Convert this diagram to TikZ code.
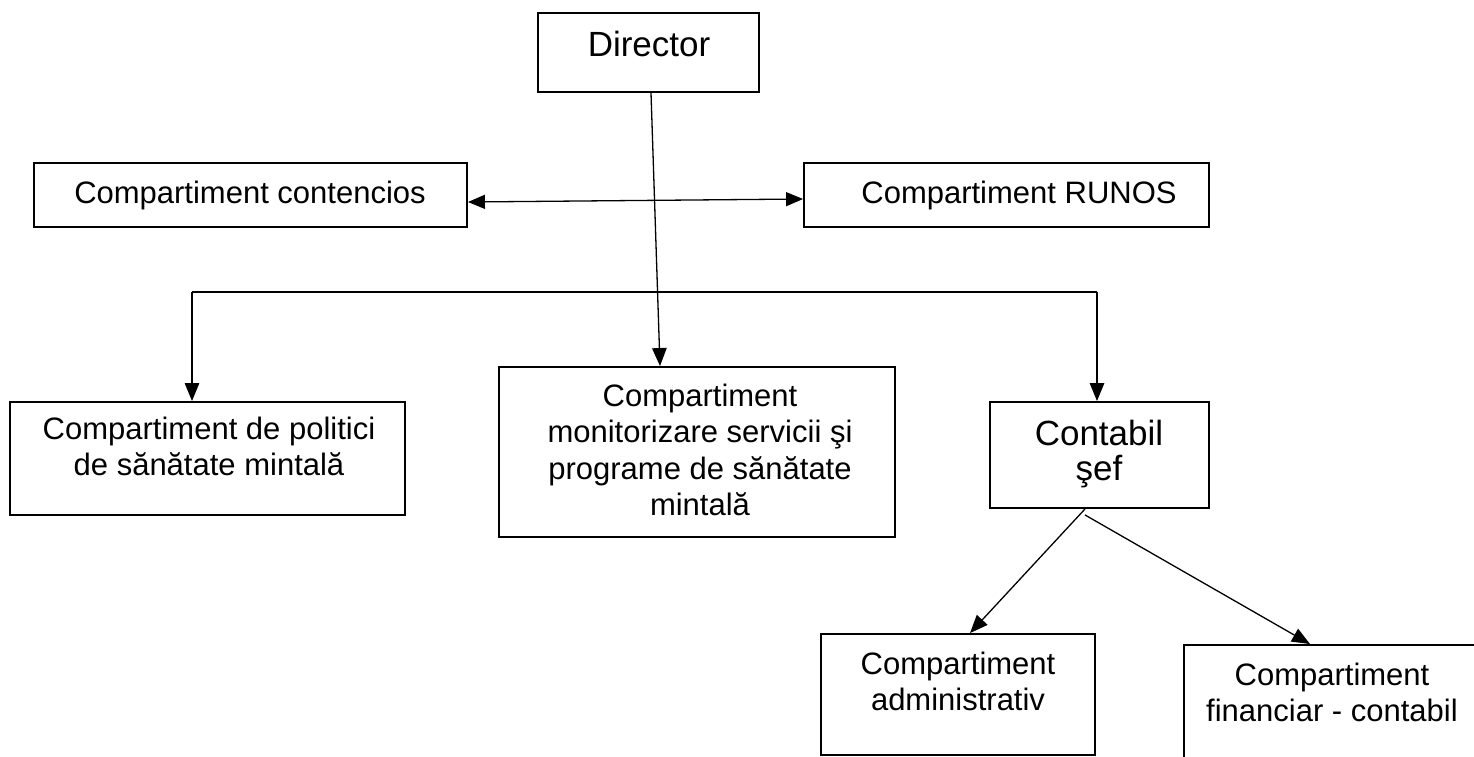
\documentclass[tikz,border=0pt]{standalone}
\usepackage{fontspec}
\setmainfont{Liberation Sans}
\usetikzlibrary{arrows.meta,calc}
\begin{document}
\begin{tikzpicture}[x=1pt,y=-1pt,
  box/.style={draw,line width=1.9pt,rectangle,inner sep=0pt},
  lbl/.style={inner sep=0pt,anchor=base,font=\fontsize{31}{36.5}\selectfont},
  big/.style={inner sep=0pt,anchor=base,font=\fontsize{35}{35}\selectfont},
  conn/.style={line width=1.3pt},
  arr/.style={conn,-{Triangle[length=18pt,width=14.5pt]}},
  biarr/.style={conn,{Triangle[length=17pt,width=14pt]}-{Triangle[length=17pt,width=14pt]}}]
\useasboundingbox (0,0) rectangle (1474,756);
\clip (0,0) rectangle (1474,756);
\fill[white] (0,0) rectangle (1474,756);

% boxes
\node[box,minimum width=221pt,minimum height=79pt] (dir) at (648.5,52.5) {};
\node[box,minimum width=433pt,minimum height=64pt] (cont) at (250.5,195) {};
\node[box,minimum width=405pt,minimum height=64pt] (runos) at (1006.5,195) {};
\node[box,minimum width=395pt,minimum height=113pt] (pol) at (207.5,458.5) {};
\node[box,minimum width=396pt,minimum height=170pt] (mon) at (697,452) {};
\node[box,minimum width=219pt,minimum height=106pt] (ctb) at (1099.5,455) {};
\node[box,minimum width=274pt,minimum height=121pt] (adm) at (958,694.5) {};
\node[box,minimum width=296pt,minimum height=145pt] (fin) at (1332,717.5) {};

% texts
\node[big] (tdir) at (649,56) {Director};
\node[lbl] (tcont) at (250,203) {Compartiment contencios};
\node[lbl] (truns) at (1019,203) {Compartiment RUNOS};
\node[lbl] (tpol) at (209,439) {\begin{tabular}[t]{@{}c@{}}Compartiment de politici\\de sănătate mintală\end{tabular}};
\node[lbl] (tmon) at (700,406) {\begin{tabular}[t]{@{}c@{}}Compartiment\\monitorizare servicii şi\\programe de sănătate\\mintală\end{tabular}};
\node[big] (tctb) at (1099,445) {\begin{tabular}[t]{@{}c@{}}Contabil\\şef\end{tabular}};
\node[lbl] (tadm) at (958,674) {\begin{tabular}[t]{@{}c@{}}Compartiment\\administrativ\end{tabular}};
\node[lbl] (tfin) at (1332,685) {\begin{tabular}[t]{@{}c@{}}Compartiment\\financiar - contabil\end{tabular}};

% connectors
\draw[arr] ($(dir.south)+(2.5,0)$) -- ($(mon.north)+(-37,0)$);
\draw[biarr] ($(cont.east)+(0,7)$) -- ($(runos.west)+(0,4)$);
\coordinate (busL) at (192,292);
\coordinate (busR) at (1097,292);
\draw[conn] (busL) -- (busR);
\draw[arr] (busL) -- (busL |- pol.north);
\draw[arr] (busR) -- (busR |- ctb.north);
\coordinate (cs) at ($(ctb.south)+(-14.5,0)$);
\draw[arr] (cs) -- ($(adm.north)+(12,0)$);
\draw[arr] ($(cs)+(0,6)$) -- ($(fin.north)+(-22,0)$);
\end{tikzpicture}
\end{document}
